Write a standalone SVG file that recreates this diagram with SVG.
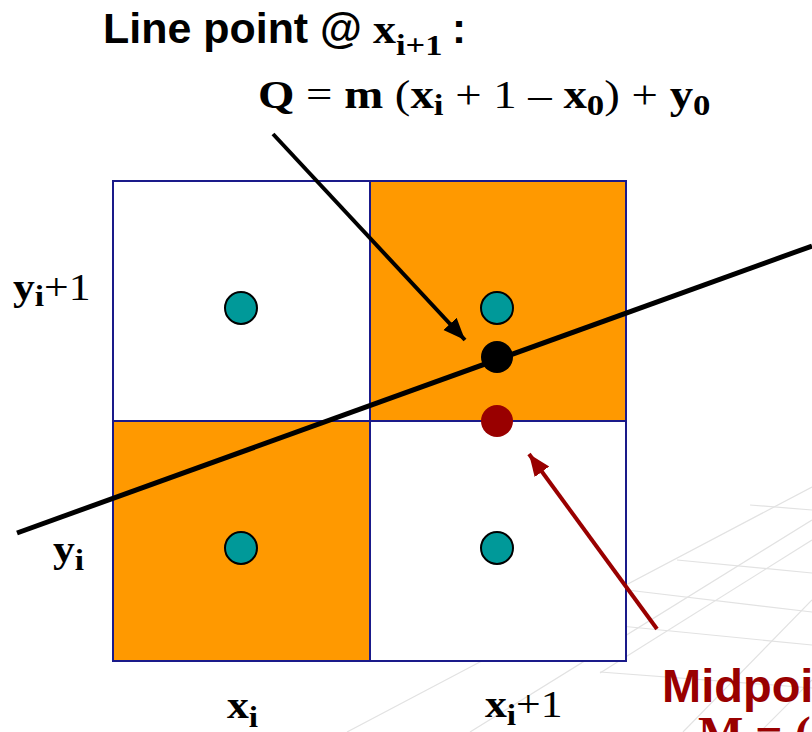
<svg xmlns="http://www.w3.org/2000/svg" width="812" height="732" viewBox="0 0 812 732">
<style>
.bg{stroke:#e2e2e2;stroke-width:1.2;fill:none}
.cell{stroke:#1a1a8a;stroke-width:2}
.pix{fill:#009999;stroke:#000;stroke-width:2}
.sans{font-family:"Liberation Sans",Arial,sans-serif;font-weight:bold}
.serif{font-family:"Liberation Serif","Times New Roman",serif}
.b{font-weight:bold}
.n{font-weight:normal}
</style>
<defs>
<marker id="ahB" markerUnits="userSpaceOnUse" markerWidth="24" markerHeight="20" refX="22" refY="9" orient="auto">
<path d="M0,0 L22,9 L0,18 Z" fill="#000"/>
</marker>
<marker id="ahR" markerUnits="userSpaceOnUse" markerWidth="24" markerHeight="20" refX="22" refY="9" orient="auto">
<path d="M0,0 L22,9 L0,18 Z" fill="#990000"/>
</marker>
</defs>
<rect width="812" height="732" fill="#fff"/>
<g id="background-grid">
<line class="bg" x1="347" y1="732" x2="812" y2="487"/>
<line class="bg" x1="470" y1="732" x2="812" y2="520"/>
<line class="bg" x1="600" y1="673" x2="812" y2="540"/>
<line class="bg" x1="683" y1="732" x2="812" y2="600"/>
<line class="bg" x1="760" y1="732" x2="812" y2="680"/>
<line class="bg" x1="677" y1="560" x2="812" y2="573"/>
<line class="bg" x1="627" y1="590" x2="812" y2="612"/>
<line class="bg" x1="560" y1="620" x2="812" y2="645"/>
<line class="bg" x1="600" y1="672" x2="812" y2="688"/>
<line class="bg" x1="750" y1="505" x2="812" y2="510"/>
</g>
<g id="cell-top-left"><rect class="cell" x="113" y="181" width="257" height="240" fill="#fff"/></g>
<g id="cell-top-right"><rect class="cell" x="370" y="181" width="256" height="240" fill="#ff9900"/></g>
<g id="cell-bottom-left"><rect class="cell" x="113" y="421" width="257" height="240" fill="#ff9900"/></g>
<g id="cell-bottom-right"><rect class="cell" x="370" y="421" width="256" height="240" fill="#fff"/></g>
<g id="pixel-tl"><circle class="pix" cx="241" cy="308" r="16"/></g>
<g id="pixel-tr"><circle class="pix" cx="497" cy="308" r="16"/></g>
<g id="pixel-bl"><circle class="pix" cx="241" cy="548" r="16"/></g>
<g id="pixel-br"><circle class="pix" cx="497" cy="548" r="16"/></g>
<g id="line"><line x1="17" y1="533" x2="812" y2="246" stroke="#000" stroke-width="5"/></g>
<g id="point-Q"><circle cx="497" cy="357" r="16" fill="#000"/></g>
<g id="midpoint-M"><circle cx="497" cy="421" r="16" fill="#990000"/></g>
<g id="connectors">
<line x1="273" y1="134" x2="465" y2="340" stroke="#000" stroke-width="4" marker-end="url(#ahB)"/>
<line x1="657" y1="629" x2="529" y2="454" stroke="#990000" stroke-width="4" marker-end="url(#ahR)"/>
</g>
<g id="label-linepoint">
<text class="sans" x="103" y="43" font-size="42" textLength="259" lengthAdjust="spacingAndGlyphs">Line point @</text>
<text class="serif b" transform="translate(373,43) scale(1.15,1)" font-size="40">x<tspan font-size="30" dy="12">i+1</tspan></text>
<text class="sans" x="452" y="43" font-size="42">:</text>
<text class="serif" transform="translate(258,108) scale(1.2,1)" font-size="39"><tspan class="b">Q</tspan> = <tspan class="b">m</tspan> (<tspan class="b">x</tspan><tspan class="b" font-size="29" dy="7">i</tspan><tspan dy="-7"> + 1 – </tspan><tspan class="b">x</tspan><tspan class="b" font-size="29" dy="7">0</tspan><tspan dy="-7">) + </tspan><tspan class="b">y</tspan><tspan class="b" font-size="29" dy="7">0</tspan></text>
</g>
<g id="label-yi1"><text class="serif" transform="translate(13,300) scale(1.15,1)" font-size="38"><tspan class="b">y</tspan><tspan class="b" font-size="29" dy="6">i</tspan><tspan dy="-6">+1</tspan></text></g>
<g id="label-yi"><text class="serif b" transform="translate(53,562) scale(1.15,1)" font-size="38">y<tspan font-size="29" dy="8">i</tspan></text></g>
<g id="label-xi"><text class="serif b" transform="translate(227,718) scale(1.15,1)" font-size="38">x<tspan font-size="29" dy="9">i</tspan></text></g>
<g id="label-xi1"><text class="serif" transform="translate(485,717) scale(1.15,1)" font-size="38"><tspan class="b">x</tspan><tspan class="b" font-size="29" dy="8">i</tspan><tspan dy="-8">+1</tspan></text></g>
<g id="label-midpoint">
<text class="sans" x="662" y="702" font-size="47" fill="#990000">Midpoi</text>
<text class="serif b" x="698" y="750" font-size="48" fill="#990000">M = (</text>
</g>
</svg>
